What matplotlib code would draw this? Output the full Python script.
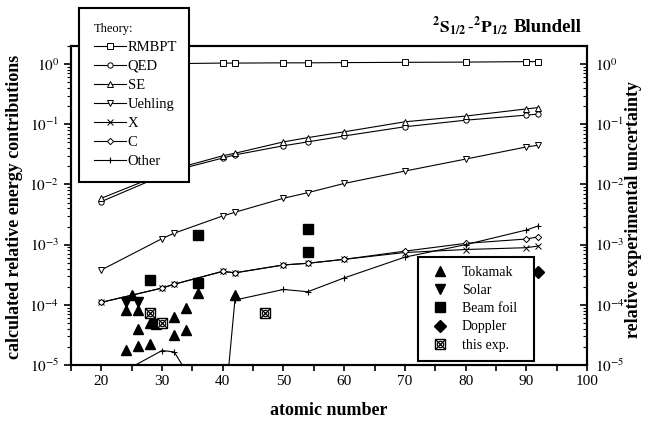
import matplotlib
matplotlib.use('Agg')
import matplotlib.pyplot as plt
from matplotlib.legend_handler import HandlerTuple
from matplotlib.ticker import FixedLocator, NullFormatter, LogLocator

plt.rcParams['font.family'] = ['Liberation Serif', 'DejaVu Serif']
plt.rcParams['mathtext.fontset'] = 'stix'

# ---------------- data ----------------
Z = [20, 30, 32, 40, 42, 50, 54, 60, 70, 80, 90, 92]
RMBPT = [1.0, 1.02, 1.02, 1.04, 1.04, 1.05, 1.05, 1.06, 1.07, 1.08, 1.10, 1.10]
QED = [5.2e-3, 0.014, 0.017, 0.0275, 0.031, 0.044, 0.051, 0.064, 0.091, 0.117, 0.142, 0.148]
SE = [5.9e-3, 0.015, 0.018, 0.030, 0.033, 0.051, 0.060, 0.075, 0.11, 0.137, 0.18, 0.19]
UEHLING = [3.8e-4, 1.26e-3, 1.55e-3, 3.0e-3, 3.45e-3, 5.9e-3, 7.3e-3, 0.0104, 0.0167, 0.0264, 0.042, 0.045]
XCORR = [1.1e-4, 1.9e-4, 2.2e-4, 3.6e-4, 3.4e-4, 4.6e-4, 4.9e-4, 5.7e-4, 7.4e-4, 8.3e-4, 8.9e-4, 9.5e-4]
CCORR = [1.1e-4, 1.9e-4, 2.2e-4, 3.6e-4, 3.4e-4, 4.6e-4, 4.9e-4, 5.7e-4, 7.8e-4, 1.05e-3, 1.24e-3, 1.35e-3]
OTHER = [4.9e-6, 1.74e-5, 1.65e-5, 8e-7, 1.2e-4, 1.8e-4, 1.65e-4, 2.8e-4, 6.2e-4, 1.0e-3, 1.75e-3, 2.05e-3]

tok_z = [24, 26, 28, 26, 28, 32, 32, 34, 34, 24, 26, 25, 36, 42]
tok_u = [1.8e-5, 2.1e-5, 2.2e-5, 3.9e-5, 5.0e-5, 6.3e-5, 3.2e-5, 8.8e-5, 3.8e-5, 8.2e-5, 8.2e-5, 1.45e-4, 1.55e-4, 1.45e-4]
sol_z = [24, 26]
sol_u = [1.1e-4, 1.1e-4]
bf_z = [28, 36, 36, 54, 54, 29]
bf_u = [2.6e-4, 2.3e-4, 1.45e-3, 1.8e-3, 7.6e-4, 4.8e-5]
dop_z = [92]
dop_u = [3.5e-4]
exp_z = [28, 30, 47]
exp_u = [7.3e-5, 5.0e-5, 7.2e-5]

theory_labels = ['RMBPT', 'QED', 'SE', 'Uehling', 'X', 'C', 'Other']
exp_labels = ['Tokamak', 'Solar', 'Beam foil', 'Doppler', 'this exp.']
y_tick_labels = [r'$10^{-5}$', r'$10^{-4}$', r'$10^{-3}$', r'$10^{-2}$', r'$10^{-1}$', r'$10^{0}$']
y_ticks = [1e-5, 1e-4, 1e-3, 1e-2, 1e-1, 1e0]

# ---------------- figure ----------------
W, H = 647, 421
fig = plt.figure(figsize=(W / 100, H / 100), dpi=100)
ax = fig.add_axes([71 / W, 1 - 365 / H, (587 - 71) / W, (365 - 46) / H])
ax.set_yscale('log')
ax.set_xlim(15, 100)
ax.set_ylim(1e-5, 2)

lw = 0.8
ms = 3.8
common = dict(color='black', lw=lw, mfc='white', mec='black', mew=0.7, ms=ms)
h_r, = ax.plot(Z, RMBPT, marker='s', **common)
h_q, = ax.plot(Z, QED, marker='o', **common)
h_s, = ax.plot(Z, SE, marker='^', **common)
h_u, = ax.plot(Z, UEHLING, marker='v', **common)
h_x, = ax.plot(Z, XCORR, marker='x', color='black', lw=lw, mec='black', mew=0.7, ms=ms)
h_c, = ax.plot(Z, CCORR, marker='D', color='black', lw=lw, mfc='white', mec='black', mew=0.7, ms=3.2)
h_o, = ax.plot(Z, OTHER, marker='+', color='black', lw=lw, mec='black', mew=0.8, ms=5)

h_tok, = ax.plot(tok_z, tok_u, ls='none', marker='^', color='black', ms=7.5)
h_sol, = ax.plot(sol_z, sol_u, ls='none', marker='v', color='black', ms=7.5)
h_bf, = ax.plot(bf_z, bf_u, ls='none', marker='s', color='black', ms=6.5)
h_dop, = ax.plot(dop_z, dop_u, ls='none', marker='D', color='black', ms=6)
e1, = ax.plot(exp_z, exp_u, ls='none', marker='s', mfc='white', mec='black', mew=1.0, ms=6.5)
e2, = ax.plot(exp_z, exp_u, ls='none', marker='o', mfc='none', mec='black', mew=0.8, ms=4.5)
e3, = ax.plot(exp_z, exp_u, ls='none', marker='x', mec='black', mew=0.9, ms=6.5)

# axes styling
for sp in ax.spines.values():
    sp.set_linewidth(1.5)
ax.set_xticks([20, 30, 40, 50, 60, 70, 80, 90, 100])
ax.xaxis.set_minor_locator(FixedLocator([15, 25, 35, 45, 55, 65, 75, 85, 95]))
ax.tick_params(axis='x', which='both', direction='out', length=4, width=1.2, labelsize=11, top=False)
ax.set_yticks(y_ticks)
ax.set_yticklabels(y_tick_labels)
ax.yaxis.set_minor_locator(LogLocator(base=10, subs=range(2, 10), numticks=20))
ax.yaxis.set_minor_formatter(NullFormatter())
ax.tick_params(axis='y', which='major', direction='out', length=5, width=1.2, labelsize=11, right=False)
ax.tick_params(axis='y', which='minor', direction='out', length=3, width=0.8, right=False)
ax.set_xlabel('atomic number', fontsize=13, fontweight='bold', labelpad=10)

ax2 = ax.twinx()
ax2.set_yscale('log')
ax2.set_ylim(1e-5, 2)
ax2.set_yticks(y_ticks)
ax2.set_yticklabels(y_tick_labels)
ax2.yaxis.set_minor_locator(LogLocator(base=10, subs=range(2, 10), numticks=20))
ax2.yaxis.set_minor_formatter(NullFormatter())
ax2.tick_params(axis='y', which='major', direction='in', length=5, width=1.2, labelsize=11, pad=6)
ax2.tick_params(axis='y', which='minor', direction='in', length=3, width=0.8)
for sp in ax2.spines.values():
    sp.set_linewidth(1.5)

fig.text(15 / W, 1 - 207 / H, 'calculated relative energy contributions', rotation=90,
         fontsize=13, fontweight='bold', ha='center', va='center')
fig.text(634 / W, 1 - 210 / H, 'relative experimental uncertainty', rotation=90,
         fontsize=13, fontweight='bold', ha='center', va='center')
fig.text(509 / W, 1 - 27 / H,
         r'$^{\mathbf{2}}\mathbf{S}_{\mathbf{1/2}}\,\mathbf{\text{-}}^{\mathbf{2}}\mathbf{P}_{\mathbf{1/2}}$',
         fontsize=12.5, fontweight='bold', ha='right', va='center')
fig.text(582 / W, 1 - 27 / H, 'Blundell', fontsize=13.5, fontweight='bold', ha='right', va='center')

# legends (on top axes so they hide lines and spines)
leg1 = ax2.legend([h_r, h_q, h_s, h_u, h_x, h_c, h_o], theory_labels,
                  title='Theory:', title_fontsize=9, alignment='left',
                  loc='upper left', bbox_to_anchor=(79 / W, 1 - 181 / H, 110 / W, 173 / H),
                  bbox_transform=fig.transFigure, mode='expand',
                  fontsize=10.5, frameon=True, fancybox=False, framealpha=1, edgecolor='black',
                  handlelength=2.2, handletextpad=0.15, labelspacing=0.4, borderpad=1.0,
                  borderaxespad=0)
leg1.get_frame().set_linewidth(1.5)
ax2.add_artist(leg1)

leg2 = ax2.legend([h_tok, h_sol, h_bf, h_dop, (e1, e2, e3)], exp_labels,
                  handler_map={tuple: HandlerTuple(ndivide=1, pad=0)},
                  loc='upper left', bbox_to_anchor=(418 / W, 1 - 361 / H, 116 / W, 104 / H),
                  bbox_transform=fig.transFigure, mode='expand',
                  fontsize=10, frameon=True, fancybox=False, framealpha=1, edgecolor='black',
                  handlelength=1.9, handletextpad=0.6, labelspacing=0.37, borderpad=0.65,
                  borderaxespad=0)
leg2.get_frame().set_linewidth(1.5)

fig.savefig('out.png', dpi=100)
